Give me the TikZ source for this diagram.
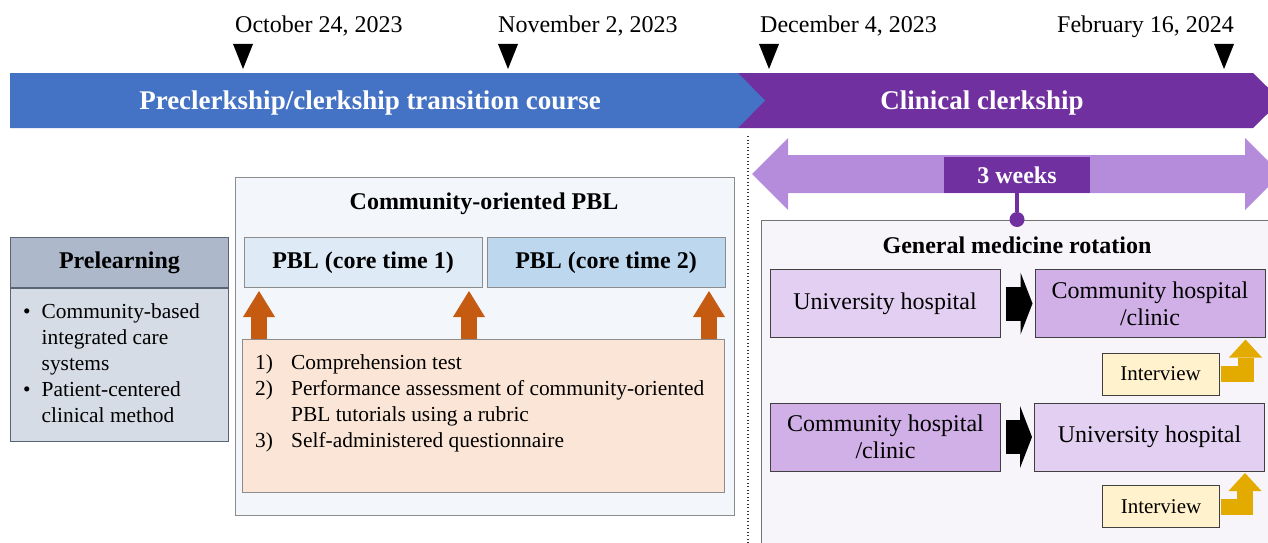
\documentclass[tikz,border=0pt]{standalone}
\usepackage{fontspec}
\setmainfont{Liberation Serif}
\usepackage{tikz}
\usetikzlibrary{arrows.meta}
\usetikzlibrary{calc,positioning}

\definecolor{bannerblue}{HTML}{4472C4}
\definecolor{clerkpurple}{HTML}{7030A0}
\definecolor{spanpurple}{HTML}{B58CDC}
\definecolor{gmfill}{HTML}{F7F5FA}
\definecolor{lightlav}{HTML}{E2CFF1}
\definecolor{midlav}{HTML}{D0B0E6}
\definecolor{interviewyellow}{HTML}{FFF2CC}
\definecolor{interviewgold}{HTML}{E3AA00}
\definecolor{arroworange}{HTML}{C55A11}
\definecolor{preheadgray}{HTML}{ADB9CA}
\definecolor{prebodygray}{HTML}{D6DCE5}
\definecolor{preborder}{HTML}{5A6573}
\definecolor{panelgray}{HTML}{8C8C8C}
\definecolor{pblfill}{HTML}{F3F6FA}
\definecolor{pblone}{HTML}{DEEBF7}
\definecolor{pbltwo}{HTML}{BDD7EE}
\definecolor{assesspeach}{HTML}{FBE5D6}

\begin{document}
\begin{tikzpicture}[x=1pt, y=-1pt,
    every node/.style={inner sep=0pt},
    datelabel/.style={font=\fontsize{24}{28}\selectfont},
    banner/.style={text=white, font=\bfseries\fontsize{27}{30}\selectfont},
    boldtitle/.style={font=\bfseries\fontsize{24}{28}\selectfont},
    panel/.style={draw=panelgray, line width=1pt},
    bodytext/.style={font=\fontsize{21.4}{26}\selectfont, align=left},
    sitebox/.style={draw=black!75, line width=1pt, minimum width=230pt, minimum height=68pt, align=center, font=\fontsize{24}{27}\selectfont},
    interview/.style={draw=black!75, fill=interviewyellow, line width=1pt, minimum width=117pt, minimum height=42pt, font=\fontsize{21}{24}\selectfont},
    uparrow/.style={draw=arroworange, line width=16pt, -{Triangle[length=26pt, width=32pt, line width=0pt]}, shorten >=3pt},
    blockarrow/.style={draw=black, line width=34pt, -{Triangle[length=12pt, width=62pt, line width=0pt]}, shorten <=5pt, shorten >=2pt},
    bentarrow/.style={draw=interviewgold, line width=16pt, -{Triangle[length=18pt, width=33pt, line width=0pt]}, shorten <=1pt, shorten >=1.5pt}]

    \useasboundingbox (0,0) rectangle (1268,543);
    \clip (0,0) rectangle (1268,543);

    \fill[clerkpurple] (738,73) -- (1253,73) -- (1281,100.5) -- (1253,128) -- (738,128) -- cycle;
    \fill[bannerblue] (10,73) -- (738,73) -- (765,100.5) -- (738,128) -- (10,128) -- cycle;
    \node[banner] (prebanner) at (370,103) {Preclerkship/clerkship transition course};
    \node[banner] (clerkbanner) at (982,103) {Clinical clerkship};

    \fill (233,44) -- ++(20,0) -- ++(-10,25) -- cycle;
    \fill (498,44) -- ++(20,0) -- ++(-10,25) -- cycle;
    \fill (759,44) -- ++(20,0) -- ++(-10,25) -- cycle;
    \fill (1214,44) -- ++(20,0) -- ++(-10,25) -- cycle;
    \node[datelabel, anchor=base west] (oct) at (235,33) {October 24, 2023};
    \node[datelabel, anchor=base west] (nov) at (498,33) {November 2, 2023};
    \node[datelabel, anchor=base west] (dec) at (760,33) {December 4, 2023};
    \node[datelabel, anchor=base east] (feb) at (1234,33) {February 16, 2024};

    \draw[black!80, line width=1.3pt, dash pattern=on 1.3pt off 2.2pt] (748,136) -- (748,543);

    % left part
    \node[panel, draw=preborder, fill=preheadgray, boldtitle, minimum width=218pt, minimum height=50pt, anchor=north west] (prehead) at (10,237) {Prelearning};
    \node[panel, draw=preborder, fill=prebodygray, minimum width=218pt, minimum height=153pt, anchor=north] (prebody) at (prehead.south) {};
    \node[bodytext, right=13pt of prebody.west] (prelist) {\begin{tabular}{@{}l@{\hspace{11pt}}l@{}}
        \textbullet & Community-based\\
                    & integrated care\\
                    & systems\\
        \textbullet & Patient-centered\\
                    & clinical method
    \end{tabular}};

    \node[panel, fill=pblfill, minimum width=499pt, minimum height=338pt, anchor=north west] (pblframe) at (235,177) {};
    \node[boldtitle] (pbltitle) at (484,204) {Community-oriented PBL};
    \node[panel, fill=pblone, boldtitle, minimum width=238pt, minimum height=50pt, anchor=north west] (pbl1) at (243.5,237) {PBL (core time 1)};
    \node[panel, fill=pbltwo, boldtitle, minimum width=238pt, minimum height=50pt, right=4pt of pbl1] (pbl2) {PBL (core time 2)};
    \node[panel, fill=assesspeach, minimum width=482pt, minimum height=153pt, anchor=north west] (assess) at (242,339) {};
    \node[bodytext, anchor=north west] (assesslist) at (255,351) {\begin{tabular}{@{}p{36pt}@{}l@{}}
        1) & Comprehension test\\
        2) & Performance assessment of community-oriented\\
           & PBL tutorials using a rubric\\
        3) & Self-administered questionnaire
    \end{tabular}};

    \coordinate (up1) at ([xshift=17pt]assess.north west);
    \coordinate (up2) at ([xshift=227pt]assess.north west);
    \coordinate (up3) at ([xshift=467pt]assess.north west);
    \draw[uparrow] (up1) -- (up1 |- pbl1.south);
    \draw[uparrow] (up2) -- (up2 |- pbl1.south);
    \draw[uparrow] (up3) -- (up3 |- pbl2.south);

    % right part
    \fill[spanpurple] (752,174) -- (788,138) -- (788,155) -- (1245,155) -- (1245,138) -- (1281,174) -- (1245,210) -- (1245,193) -- (788,193) -- (788,210) -- cycle;
    \node[draw=black!55, fill=gmfill, line width=1pt, minimum width=520pt, minimum height=340pt, anchor=north west] (gmbox) at (761,219.5) {};
    \node[fill=clerkpurple, text=white, boldtitle, minimum width=146pt, minimum height=36pt] (weeks) at (1017,175) {3 weeks};
    \draw[clerkpurple, line width=3.5pt, -{Circle[length=15pt, line width=0pt]}, shorten >=-7.5pt] (weeks.south) -- (weeks.south |- gmbox.north);
    \node[boldtitle] (gmtitle) at (1017,245) {General medicine rotation};

    \node[sitebox, fill=lightlav] (uh1) at (885,303.5) {University hospital};
    \node[sitebox, fill=midlav, right=34pt of uh1] (ch1) {Community hospital\\/clinic};
    \node[interview] (int1) at (1160.5,374) {Interview};
    \node[sitebox, fill=midlav] (ch2) at (885.5,437) {Community hospital\\/clinic};
    \node[sitebox, fill=lightlav, right=33pt of ch2] (uh2) {University hospital};
    \node[interview] (int2) at (1161,506.5) {Interview};

    \draw[blockarrow] (uh1) -- (ch1);
    \draw[blockarrow] (ch2) -- (uh2);
    \draw[bentarrow] (int1.east) -| ([xshift=-20pt]ch1.south east);
    \draw[bentarrow] (int2.east) -| ([xshift=-20pt]uh2.south east);
\end{tikzpicture}
\end{document}
